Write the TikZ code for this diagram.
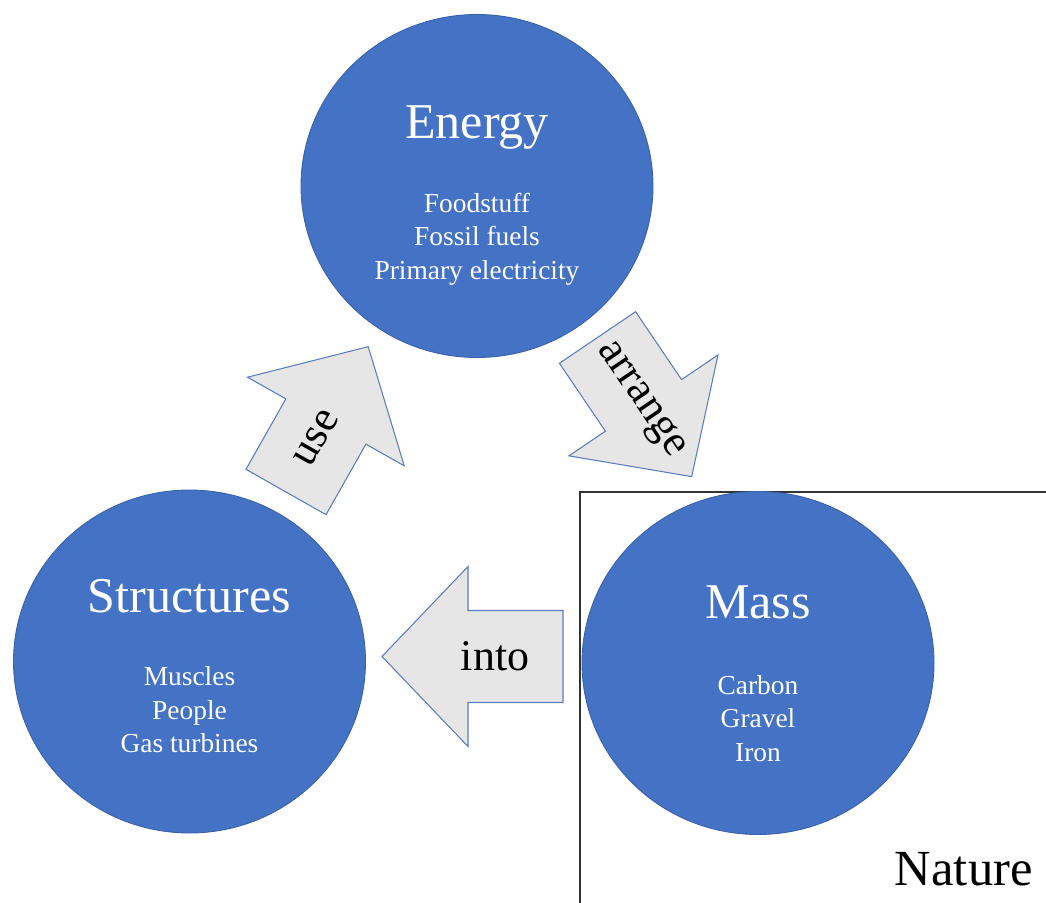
\documentclass[tikz,border=0pt]{standalone}
\usepackage{fontspec}
\setmainfont{Liberation Serif}
\usepackage{tikz}
\usetikzlibrary{shapes.geometric}
\usetikzlibrary{positioning}
\usetikzlibrary{calc}

\definecolor{bubbleblue}{HTML}{4472C4}
\definecolor{bubbleedge}{HTML}{3A62AA}
\definecolor{arrowgray}{HTML}{E7E6E6}
\definecolor{arrowedge}{HTML}{5A7DBE}

\begin{document}
\begin{tikzpicture}[x=0.2mm, y=0.2mm,
    bubble/.style={ellipse, fill=bubbleblue, draw=bubbleedge, line width=0.5pt,
                   minimum width=70.4mm, minimum height=68.6mm, inner sep=0pt},
    heading/.style={text=white, font=\fontsize{28.5}{34}\selectfont, inner sep=0pt},
    item/.style={text=white, font=\fontsize{15.6}{19}\selectfont, inner sep=0pt},
    flowarrow/.style={fill=arrowgray, draw=arrowedge, line width=0.6pt, line join=miter},
    verb/.style={font=\fontsize{25}{30}\selectfont, inner sep=0pt},
    naturebox/.style={draw=black!80, line width=1.1pt}]

  \useasboundingbox (0,0) rectangle (1046,-903);

	%nature box
  \draw[naturebox] (1046,-492) -- (580,-492) -- (580,-903);
  \node[font=\fontsize{28.8}{34}\selectfont, inner sep=0pt, anchor=base east] (nature) at (1033,-885) {Nature};

	%circles
    \foreach \name/\x/\y/\top/\low/\title/\items in {energy/477/-186/48/26/Energy/{Foodstuff,Fossil fuels,Primary electricity},
                                          structures/189.5/-661.5/49/24/Structures/{Muscles,People,Gas turbines},
                                          mass/758/-663/45/31/Mass/{Carbon,Gravel,Iron}}{
         \node[bubble] (\name) at (\x,\y) {};
         \node[heading, anchor=base] (\name-title) at ($(\name)+(0,\top)$) {\title};
         \foreach \line [count=\k] in \items {
              \node[item, anchor=base] (\name-\k) at ($(\name)+(0,{-\low-33.5*(\k-1)})$) {\line};
         }
    }

	%arrows
    \foreach \tx/\ty/\ang/\len/\d/\rot/\name in {286/-492/60.5/167/62/60.5/use,
                                                597.5/-337.5/-55.9/168/76/-55.9/arrange,
                                                563/-656.5/180/181/68/0/into}{
         \begin{scope}[shift={(\tx,\ty)}, rotate=\ang]
              \draw[flowarrow] (0,-46) -- (\len-86,-46) -- (\len-86,-90) -- (\len,0)
                               -- (\len-86,90) -- (\len-86,46) -- (0,46) -- cycle;
              \node[verb, rotate=\rot] (\name) at (\d,0) {\name};
         \end{scope}
    }

\end{tikzpicture}
\end{document}
